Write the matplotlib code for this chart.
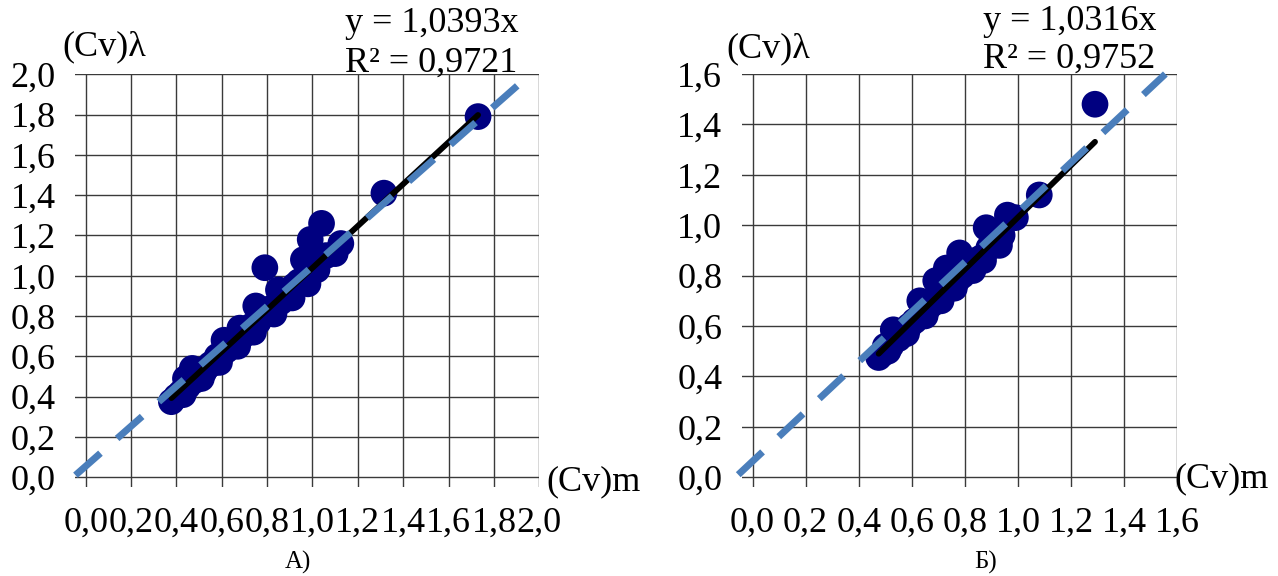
import numpy as np
import matplotlib
matplotlib.use("Agg")
import matplotlib.pyplot as plt

plt.rcParams['font.family'] = ['Liberation Serif', 'DejaVu Serif']

# --- data, panel A ---
xa = [0.378, 0.40, 0.42, 0.44, 0.45, 0.47, 0.48, 0.50, 0.52, 0.53, 0.55, 0.57,
      0.58, 0.60, 0.61, 0.62, 0.64, 0.66, 0.68, 0.69, 0.71, 0.73, 0.75, 0.76,
      0.78, 0.79, 0.80, 0.82, 0.85, 0.86, 0.88, 0.90, 0.92, 0.94, 0.96, 0.97,
      0.99, 1.00, 1.02, 1.04, 1.06, 1.10, 1.125, 1.315, 1.73,
      0.43, 0.51, 0.59, 0.67, 0.74, 0.83, 0.91, 0.98]
ya = [0.375, 0.40, 0.42, 0.49, 0.45, 0.54, 0.48, 0.50, 0.52, 0.54, 0.56, 0.57,
      0.60, 0.61, 0.68, 0.63, 0.65, 0.67, 0.74, 0.70, 0.72, 0.75, 0.85, 0.77,
      0.80, 1.04, 0.82, 0.84, 0.93, 0.87, 0.90, 0.92, 0.95, 0.97, 1.08, 1.00,
      1.18, 1.05, 1.03, 1.26, 1.10, 1.11, 1.16, 1.41, 1.79,
      0.41, 0.49, 0.57, 0.65, 0.72, 0.81, 0.89, 0.96]
slope_a = 1.0393
r2_a = 0.9721
guide_a_x = [-0.045, 1.915]
guide_a_y = [0.01, 1.955]

# --- data, panel B ---
xb = [0.475, 0.49, 0.50, 0.52, 0.53, 0.55, 0.57, 0.59, 0.61, 0.63, 0.64, 0.66,
      0.68, 0.69, 0.70, 0.72, 0.73, 0.75, 0.77, 0.78, 0.79, 0.80, 0.82, 0.84,
      0.86, 0.88, 0.89, 0.92, 0.94, 0.96, 0.99, 1.08, 1.29,
      0.51, 0.58, 0.65, 0.71, 0.76, 0.83, 0.87, 0.93]
yb = [0.475, 0.49, 0.52, 0.52, 0.585, 0.55, 0.58, 0.60, 0.62, 0.70, 0.65, 0.67,
      0.69, 0.78, 0.71, 0.73, 0.83, 0.76, 0.78, 0.89, 0.80, 0.83, 0.84, 0.86,
      0.87, 0.99, 0.91, 0.95, 0.96, 1.04, 1.03, 1.12, 1.48,
      0.50, 0.57, 0.64, 0.70, 0.75, 0.82, 0.86, 0.92]
slope_b = 1.0316
r2_b = 0.9752
guide_b_x = [-0.054, 1.555]
guide_b_y = [0.01, 1.60]

ticks_a = np.arange(0, 2.01, 0.2)
ticks_b = np.arange(0, 1.61, 0.2)

W, H = 1278, 576
fig = plt.figure(figsize=(W / 100, H / 100), dpi=100)


def fx(px):
    return px / W


def fy(py):
    return 1 - py / H


def fmt(v):
    return f"{v:.1f}".replace('.', ',')


def panel(rect, x, y, slope, guide_x, guide_y, ticks, lims):
    ax = fig.add_axes(rect)
    ax.set_xlim(lims[0], lims[1])
    ax.set_ylim(lims[2], lims[3])
    ax.set_xticks(ticks)
    ax.set_yticks(ticks)
    ax.set_xticklabels([fmt(t) for t in ticks])
    ax.set_yticklabels([fmt(t) for t in ticks])
    ax.tick_params(length=0, labelsize=26, pad=14)
    ax.tick_params(axis='x', pad=14)
    ax.grid(True, color='#3a3a3a', lw=1.0)
    ax.set_axisbelow(True)
    for s in ax.spines.values():
        s.set_visible(False)
    ax.scatter(x, y, s=370, color='#000080', edgecolors='none', zorder=3)
    xt = np.array([min(x), max(x)])
    ax.plot(xt, slope * xt, color='black', lw=4.2, solid_capstyle='round', zorder=4)
    ax.plot(guide_x, guide_y, color='#4A7EBB', lw=5, dashes=(4.8, 3.2),
            dash_capstyle='butt', zorder=5, clip_on=False)
    return ax


ax1 = panel([fx(75), fy(487.3), fx(539.3) - fx(75), fy(74.3) - fy(487.3)],
            xa, ya, slope_a, guide_a_x, guide_a_y, ticks_a, (-0.047, 2.0, -0.05, 2.0))
ax2 = panel([fx(741.7), fy(487.3), fx(1177.3) - fx(741.7), fy(74) - fy(487.3)],
            xb, yb, slope_b, guide_b_x, guide_b_y, ticks_b, (-0.041, 1.6, -0.04, 1.6))

# axis titles
fig.text(fx(62), fy(47), "(Cv)λ", fontsize=26, va='center', ha='left')
fig.text(fx(726), fy(49), "(Cv)λ", fontsize=26, va='center', ha='left')
fig.text(fx(546), fy(482), "(Cv)m", fontsize=26, va='center', ha='left')
fig.text(fx(1174), fy(479), "(Cv)m", fontsize=26, va='center', ha='left')

# equations
fig.text(fx(345), fy(24), "y = " + f"{slope_a:.4f}".replace('.', ',') + "x",
         fontsize=26, va='center', ha='left')
fig.text(fx(345), fy(63), "R² = " + f"{r2_a:.4f}".replace('.', ','),
         fontsize=26, va='center', ha='left')
fig.text(fx(983), fy(21), "y = " + f"{slope_b:.4f}".replace('.', ',') + "x",
         fontsize=26, va='center', ha='left')
fig.text(fx(983), fy(59), "R² = " + f"{r2_b:.4f}".replace('.', ','),
         fontsize=26, va='center', ha='left')

# captions
fig.text(fx(298), fy(562), "А)", fontsize=18, va='center', ha='center')
fig.text(fx(986), fy(562), "Б)", fontsize=18, va='center', ha='center')

fig.savefig("out.png", dpi=100)
